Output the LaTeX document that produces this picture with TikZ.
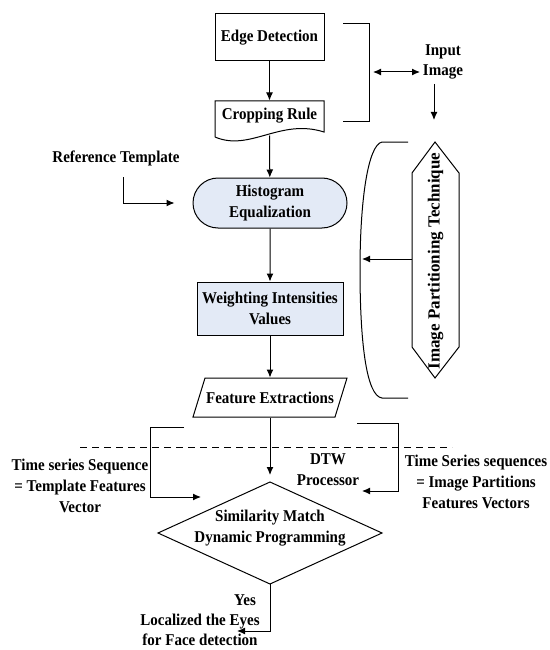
\documentclass[tikz,border=0pt]{standalone}
\usepackage{fontspec}
\setmainfont{Liberation Serif}[FakeStretch=0.91]
\newfontfamily\rotfont{Liberation Serif}
\usetikzlibrary{shapes.geometric,shapes.misc,arrows.meta}
\definecolor{stepblue}{HTML}{E3EAF6}
\tikzstyle{txt}=[font=\bfseries\fontsize{16.5}{21}\selectfont,align=center,inner sep=0pt]
\tikzstyle{box}=[txt,draw,shape=rectangle]

\begin{document}
\begin{tikzpicture}[x=1pt,y=-1pt,line width=1pt,>={Latex[length=8pt,width=7pt]}]
\useasboundingbox (0,0) rectangle (549,650);
\node[box,minimum width=109pt,minimum height=47pt] at (269.5,37.5) (edge) {Edge Detection};
\node[txt,minimum width=109pt,minimum height=30pt] at (269.5,116) (crop) {Cropping Rule};
\draw (215,137) -- (215,101) -- (324,101) -- (324,132) .. controls (280,118) and (250,152) .. (215,137);
\node[box,shape=rounded rectangle,fill=stepblue,minimum width=154pt,minimum height=50pt] at (270,203) (hist) {Histogram\\Equalization};
\node[box,fill=stepblue,minimum width=146pt,minimum height=53pt] at (270,308.5) (weight) {Weighting Intensities\\Values};
\node[txt,minimum width=130pt,minimum height=39pt] at (270,397.5) (feat) {Feature Extractions};
\draw (205,378) -- (347,378) -- (335,417) -- (193,417) -- cycle;
\node[txt] at (270,528) (match) {Similarity Match\\Dynamic Programming};
\coordinate (matchn) at (270,475);
\coordinate (matchs) at (270,584);
\draw (270,482) -- (382,533) -- (matchs) -- (158,533) -- cycle;
\draw[->] (edge) -- (crop);
\draw[->] ([yshift=-4pt]crop.south) -- (hist);
\draw[->] (hist) -- (weight);
\draw[->] (weight) -- (feat);
\draw[->] (feat) -- (matchn);

\node[txt] at (116,158) (ref) {Reference Template};
\draw[->] (ref.south) ++(7,11) |- ([xshift=-18pt]hist.west);

\node[txt,font=\bfseries\fontsize{16.5}{20}\selectfont] at (443,62) (input) {Input\\Image};
\coordinate (brk) at (373,72);
\coordinate (imgdown) at (434,84);
\draw (343,24) -| (369,122) -- (343,122);
\draw[<->] (brk) -- +(47,0);
\draw[->] (imgdown) -- +(0,36);

\draw (435,142) -- (459,173) -- (459,347) -- (435,378) -- (412,347) -- (412,173) -- cycle;
\node[txt,font=\rotfont\bfseries\fontsize{17}{20}\selectfont,rotate=90] at (435.5,261) (part) {Image Partitioning Technique};
\draw (408,142) -- (382,142) .. controls (368,145) and (360,200) .. (360,270) .. controls (360,340) and (366,396) .. (382,398) -- (408,398);
\coordinate (partw) at (412,259);
\draw[->] (partw) -- +(-50,0);

\draw[dash pattern=on 7pt off 5pt] (80,447) -- (452,447);
\node[txt] at (328,470) (dtw) {DTW\\Processor};
\node[txt] at (80,486) (tseq) {Time series Sequence\\= Template Features\\Vector};
\node[txt] at (476,482) (iseq) {Time Series sequences\\= Image Partitions\\Features Vectors};
\draw[->] (184,427) -| (150,497) -- (201,497);
\draw[->] (357,423) -| (398,491) -- (362,491);

\node[txt] at (245,600) (yes) {Yes};
\node[txt,font=\bfseries\fontsize{16.5}{20}\selectfont] at (200,630) (eyes) {Localized the Eyes\\for Face detection};
\coordinate (eyesin) at (237,631);
\draw[->] (matchs) |- (eyesin);
\end{tikzpicture}
\end{document}
